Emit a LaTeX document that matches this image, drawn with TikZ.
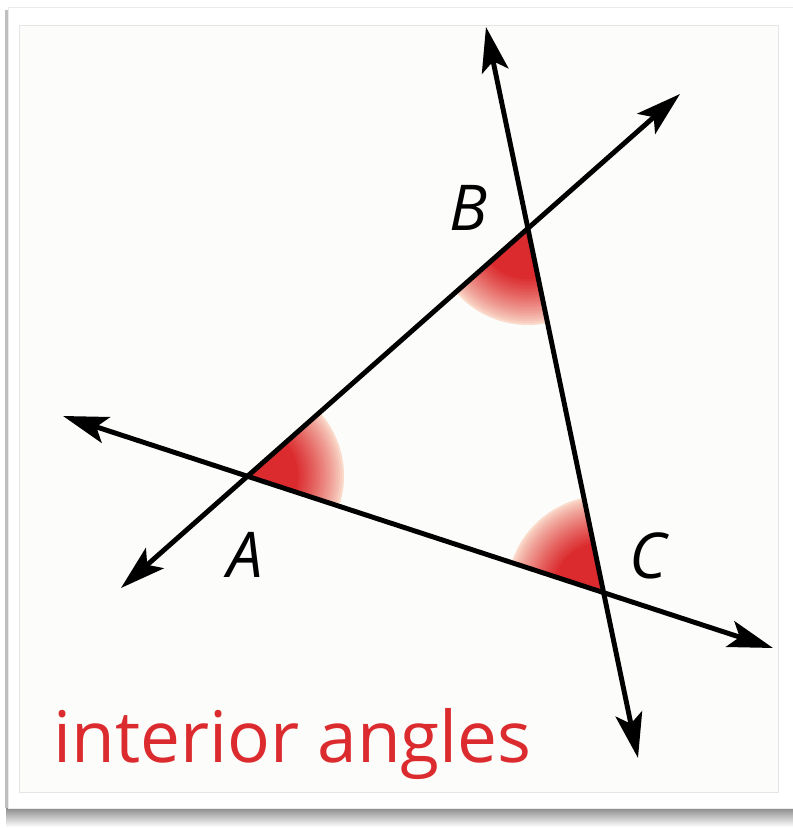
\documentclass[tikz,border=0pt]{standalone}
\usepackage{fontspec}
\setmainfont{Open Sans}
\usetikzlibrary{arrows.meta,calc}
\definecolor{anglered}{HTML}{DB2B2E}
\definecolor{anglefade}{HTML}{FADACB}
\definecolor{photobg}{HTML}{FCFCFA}

\begin{document}
\begin{tikzpicture}[x=0.02cm,y=0.02cm,
  ray/.style={line width=2.8pt,line cap=round,
    {Stealth[length=9mm,width=5.4mm,inset=2mm]}-{Stealth[length=9mm,width=5.4mm,inset=2mm]}},
  vlabel/.style={font=\fontsize{36pt}{42pt}\selectfont\itshape,inner sep=0pt}]
\path[use as bounding box] (0,0) rectangle (793,828);
% card with its shadow
\shade[top color=black!45,bottom color=white] (6,1) rectangle (793,20);
\fill[black!25] (5,20) rectangle (8,818);
\filldraw[fill=white,draw=black!8] (8,20) rectangle (796,821);
\filldraw[fill=photobg,draw=black!10] (19,36) rectangle (778,803);
% vertices
\coordinate (A) at (248,352);
\coordinate (B) at (528,599);
\coordinate (C) at (603,236);
% free ends of the lines
\coordinate (ab1) at (121,240);
\coordinate (ab2) at (680,734);
\coordinate (ac1) at (63,412);
\coordinate (ac2) at (773,180);
\coordinate (bc1) at (486,801);
\coordinate (bc2) at (638,70);
% interior angles, fading outwards
\begin{scope}
\clip (A) -- (B) -- (C) -- cycle;
\foreach \v in {A,B,C}{
  \foreach \r in {96,94,...,50}{
    \pgfmathsetmacro\pct{int(100*((96-\r)/46)^0.8)}
    \fill[anglered!\pct!anglefade] (\v) circle (\r);
  }
  \fill[anglered] (\v) circle (48);
}
\end{scope}
\draw[ray] (ab1) -- (ab2);
\draw[ray] (ac1) -- (ac2);
\draw[ray] (bc1) -- (bc2);
\node[vlabel] (lblA) at (245,273) {A};
\node[vlabel] (lblB) at (468,620) {B};
\node[vlabel] (lblC) at (648,272) {C};
\node[anchor=base west,inner sep=0pt,text=anglered,
  font=\fontsize{40.5pt}{46pt}\selectfont] (caption) at (53,65) {interior angles};
\end{tikzpicture}
\end{document}
